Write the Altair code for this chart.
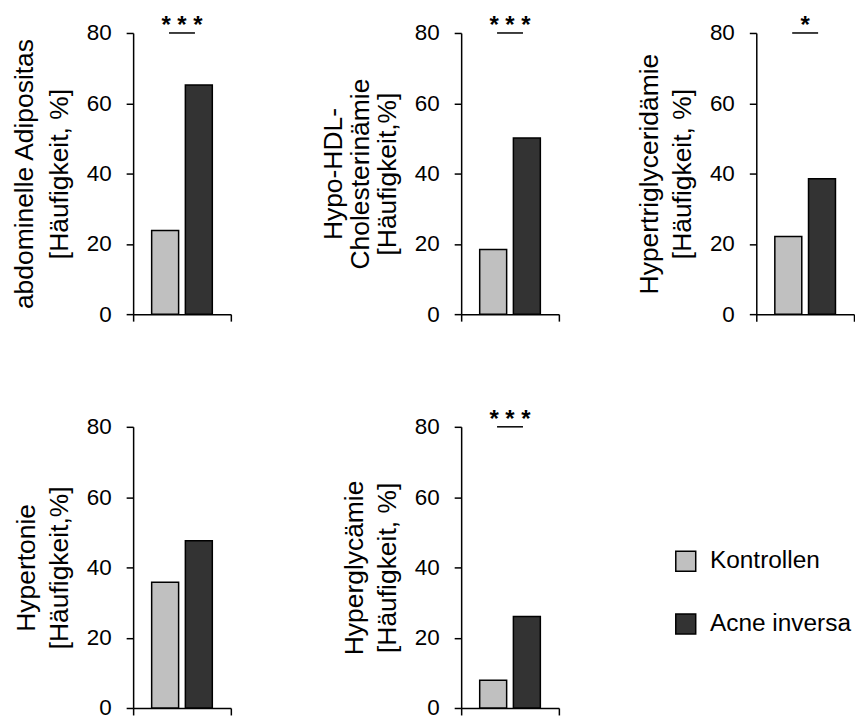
import altair as alt
import pandas as pd

# ---- data ----
panels = ["abdominelle Adipositas", "Hypo-HDL-Cholesterinämie", "Hypertriglyceridämie",
          "Hypertonie", "Hyperglycämie"]
axis_titles = [
    ["abdominelle Adipositas", "[Häufigkeit, %]"],
    ["Hypo-HDL-", "Cholesterinämie", "[Häufigkeit,%]"],
    ["Hypertriglyceridämie", "[Häufigkeit, %]"],
    ["Hypertonie", "[Häufigkeit,%]"],
    ["Hyperglycämie", "[Häufigkeit, %]"],
]
title_line_heights = [35, 27, 33, 33, 33]
groups = ["Kontrollen", "Acne inversa"]
kontrollen = [23.8, 18.4, 22.1, 35.8, 7.9]
acne_inversa = [65.2, 50.1, 38.5, 47.6, 26.0]
significance = ["* * *", "* * *", "*", "", "* * *"]
sig_level = [80, 80, 80, 80, 80]
y_ticks = [0, 20, 40, 60, 80]
colors = ["#c0c0c0", "#333333"]

FONT = "Liberation Sans"
W, H = 98, 282
NO_VIEW = alt.ViewBackground(stroke="transparent", strokeWidth=0)


def panel(i, show_legend=False):
    df = pd.DataFrame({"panel": panels[i], "group": groups,
                       "value": [kontrollen[i], acne_inversa[i]]})
    x_enc = alt.X("panel:N", scale=alt.Scale(paddingInner=0, paddingOuter=0),
                  axis=alt.Axis(labels=False, title=None, tickBand="extent", tickSize=7,
                                tickColor="black", domainColor="black", tickWidth=1.5,
                                domainWidth=1.5, grid=False))
    y_enc = alt.Y("value:Q", scale=alt.Scale(domain=[0, 80], nice=False),
                  axis=alt.Axis(values=y_ticks, title=axis_titles[i], titleFontSize=26.5,
                                titleFont=FONT, titleFontWeight="normal", titleColor="black",
                                titlePadding=13, titleLineHeight=title_line_heights[i],
                                labelFontSize=22.5, labelFont=FONT, labelColor="black",
                                labelPadding=15, tickSize=7, tickColor="black",
                                tickWidth=1.5, domainColor="black", domainWidth=1.5,
                                grid=False))
    if show_legend:
        legend = alt.Legend(orient="none", legendX=213, legendY=122.5, direction="vertical",
                            title=None, symbolType="square", symbolSize=400,
                            symbolStrokeColor="black", symbolStrokeWidth=1.5,
                            symbolOpacity=1, labelFontSize=24.5, labelFont=FONT,
                            labelColor="black", labelOffset=12, rowPadding=36, padding=0)
    else:
        legend = None
    bars = alt.Chart(df).mark_bar(stroke="black", strokeWidth=1.5).encode(
        x=x_enc,
        xOffset=alt.XOffset("group:N", scale=alt.Scale(domain=groups, paddingInner=0.2,
                                                       paddingOuter=0.55)),
        y=y_enc,
        color=alt.Color("group:N", scale=alt.Scale(domain=groups, range=colors),
                        legend=legend),
    )
    layers = [bars]
    if significance[i]:
        sdf = pd.DataFrame({"panel": [panels[i]], "value": [sig_level[i]],
                            "label": [significance[i]]})
        line = alt.Chart(sdf).mark_tick(orient="horizontal", color="black", size=26,
                                        thickness=1.5, opacity=1).encode(x=x_enc, y=y_enc)
        stars = alt.Chart(sdf).mark_text(font=FONT, fontSize=24, fontWeight="bold",
                                         baseline="alphabetic", align="center",
                                         color="black").encode(
            x=x_enc, y=y_enc, text="label:N")
        layers += [line, stars]
    return alt.layer(*layers).properties(width=W, height=H, view=NO_VIEW)


def spacer(w):
    return alt.Chart(pd.DataFrame({"a": [0]})).mark_text(text="", opacity=0).encode(
        x=alt.value(0), y=alt.value(0)).properties(width=w, height=H, view=NO_VIEW)


chart = alt.concat(
    panel(0), spacer(231), panel(1), spacer(198), panel(2),
    panel(3), spacer(231), panel(4, show_legend=True),
    columns=5, spacing={"row": 113, "column": 0}, bounds="flush",
).resolve_scale(color="independent").properties(
    padding={"left": 2.5, "top": 5, "right": 0, "bottom": 0}
).configure_view(stroke="transparent", strokeWidth=0).configure(font=FONT)

chart.save("out.html", embed_options={"renderer": "svg", "actions": False})
